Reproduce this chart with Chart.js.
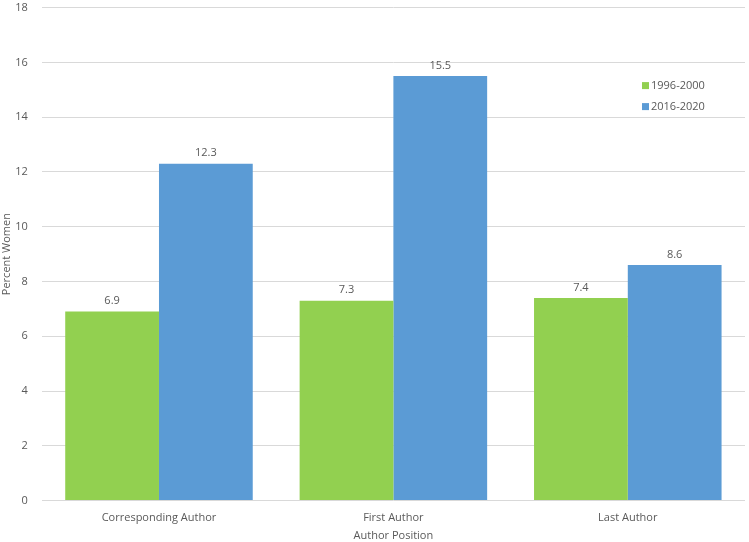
<!DOCTYPE html>
<html>
<head>
<meta charset="utf-8">
<script src="https://cdn.jsdelivr.net/npm/chart.js@4/dist/chart.umd.min.js"></script>
<style>
  html, body { margin: 0; padding: 0; background: #fff; overflow: hidden; }
  #wrap { width: 749px; height: 555px; position: relative; top: -13px; }
</style>
</head>
<body>
<div id="wrap"><canvas id="chart"></canvas></div>
<script>
// Women authorship by position
const categories = ['Corresponding Author', 'First Author', 'Last Author'];
const period1Label = '1996-2000';
const period2Label = '2016-2020';
const period1 = [6.9, 7.3, 7.4];
const period2 = [12.3, 15.5, 8.6];
const yTicks = [0, 2, 4, 6, 8, 10, 12, 14, 16, 18];

const textColor = '#595959';
const fontFamily = '"Open Sans", "DejaVu Sans", sans-serif';

// value labels above each bar
const barLabels = {
    id: 'barLabels',
    afterDatasetsDraw(chart) {
        const ctx = chart.ctx;
        ctx.save();
        ctx.font = '11px ' + fontFamily;
        ctx.fillStyle = textColor;
        ctx.textAlign = 'center';
        ctx.textBaseline = 'bottom';
        chart.data.datasets.forEach((ds, i) => {
            chart.getDatasetMeta(i).data.forEach((bar, j) => {
                ctx.fillText(ds.data[j].toFixed(1), bar.x, bar.y - 5);
            });
        });
        ctx.restore();
    }
};

// legend in the top right of the plot
const sideLegend = {
    id: 'sideLegend',
    afterDraw(chart) {
        const ctx = chart.ctx;
        const x = chart.chartArea.right - 103;
        let y = chart.chartArea.top + 78;
        ctx.save();
        ctx.font = '11px ' + fontFamily;
        ctx.textBaseline = 'middle';
        chart.data.datasets.forEach(ds => {
            ctx.fillStyle = ds.backgroundColor;
            ctx.fillRect(x, y - 3.5, 7, 7);
            ctx.fillStyle = textColor;
            ctx.fillText(ds.label, x + 9, y);
            y += 21;
        });
        ctx.restore();
    }
};

const ctx = document.getElementById('chart').getContext('2d');
new Chart(ctx, {
    type: 'bar',
    data: {
        labels: categories,
        datasets: [
            { label: period1Label, data: period1, backgroundColor: '#92D050' },
            { label: period2Label, data: period2, backgroundColor: '#5B9BD5' }
        ]
    },
    options: {
        responsive: true,
        maintainAspectRatio: false,
        animation: false,
        layout: { padding: { top: 0, right: 4, left: 0, bottom: 0 } },
        datasets: { bar: { categoryPercentage: 0.8, barPercentage: 1.0 } },
        plugins: {
            legend: { display: false },
            tooltip: { enabled: false }
        },
        scales: {
            x: {
                grid: { display: false },
                border: { display: false },
                ticks: { color: textColor, font: { family: fontFamily, size: 11 }, padding: 3 },
                title: {
                    display: true, text: 'Author Position', color: textColor,
                    font: { family: fontFamily, size: 11 }, padding: { top: 1, bottom: 0 }
                }
            },
            y: {
                min: 0, max: 18,
                afterBuildTicks(axis) { axis.ticks = yTicks.map(v => ({ value: v })); },
                grid: { color: '#D9D9D9', drawTicks: false },
                border: { display: false },
                ticks: { color: textColor, font: { family: fontFamily, size: 11 }, padding: 14 },
                title: {
                    display: true, text: 'Percent Women', color: textColor,
                    font: { family: fontFamily, size: 11 }, padding: { top: 0, bottom: -12 }
                }
            }
        }
    },
    plugins: [barLabels, sideLegend]
});
</script>
</body>
</html>
